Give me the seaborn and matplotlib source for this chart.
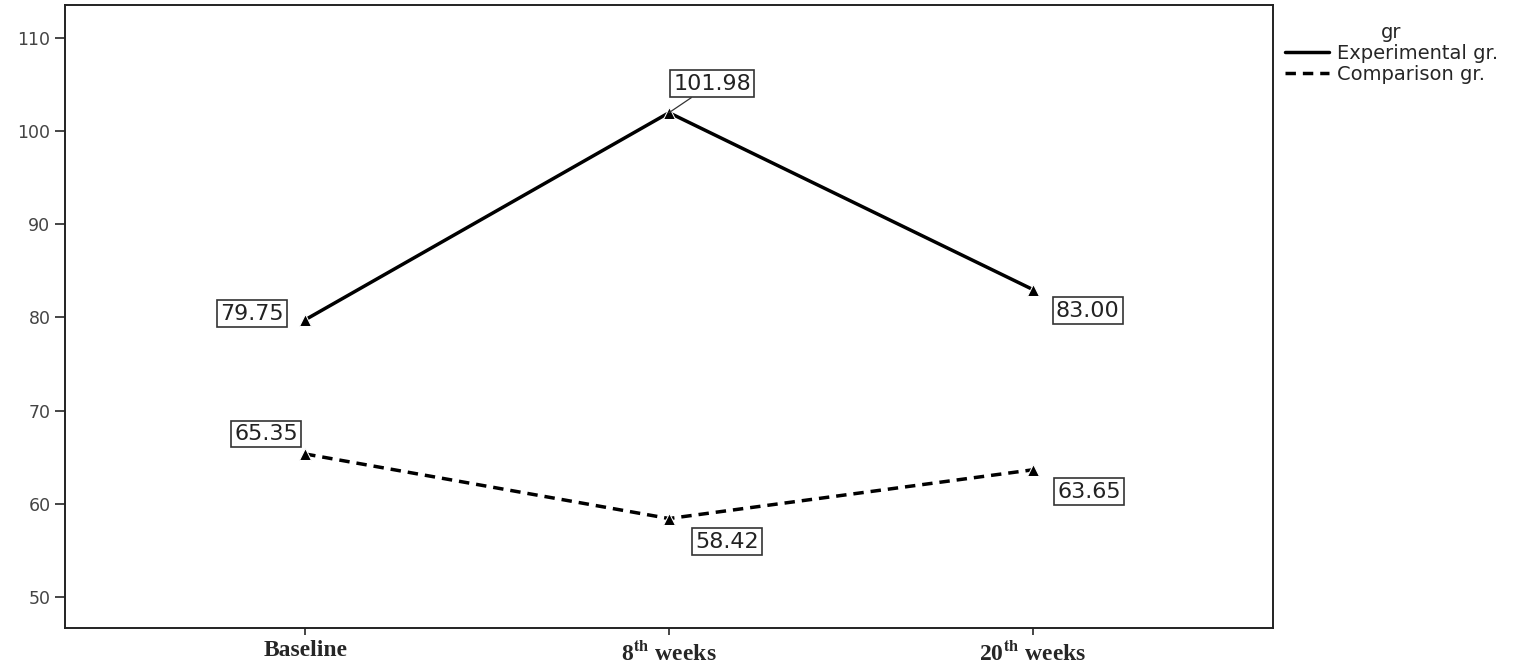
import numpy as np
import pandas as pd
import matplotlib
matplotlib.use("Agg")
import matplotlib.pyplot as plt
import seaborn as sns

# datos
tiempos = ["Baseline", "8th weeks", "20th weeks"]
etiquetas_x = ["Baseline", r"8$^{\mathbf{th}}$ weeks", r"20$^{\mathbf{th}}$ weeks"]
experimental = [79.75, 101.98, 83.00]
comparacion = [65.35, 58.42, 63.65]
grupos = ["Experimental gr.", "Comparison gr."]

# offsets de las etiquetas (pixeles)
offs_exp = [(-53, 6), (43, 29), (55, -21)]
offs_comp = [(-39, 20), (58, -23), (56, -22)]

df = pd.DataFrame({
    "tiempo": tiempos * 2,
    "valor": experimental + comparacion,
    "gr": [grupos[0]] * 3 + [grupos[1]] * 3,
})

sns.set_style("white")
plt.rcParams["font.family"] = ["DejaVu Sans"]
plt.rcParams["mathtext.fontset"] = "stix"

fig = plt.figure(figsize=(15.26, 6.66), dpi=100)
ax = fig.add_axes([65 / 1526, 1 - 628 / 666, (1273 - 65) / 1526, 623 / 666])

sns.lineplot(data=df, x="tiempo", y="valor", hue="gr", style="gr",
             palette=["black", "black"],
             dashes={grupos[0]: "", grupos[1]: (3, 2)},
             markers={grupos[0]: "^", grupos[1]: "^"},
             markersize=9, lw=2.5, ax=ax)

ax.set_xlim(-0.66, 2.66)
ax.set_ylim(46.67, 113.54)
ax.set_yticks(np.arange(50, 111, 10))
ax.set_xticks(range(len(tiempos)))
ax.set_xticklabels(etiquetas_x, fontfamily="Liberation Serif", fontweight="bold", fontsize=17)
ax.tick_params(axis="y", labelsize=12.5, labelcolor="#444444", length=7, width=1.2, left=True)
ax.tick_params(axis="x", length=5, width=1.2, bottom=True, pad=4)
ax.set_xlabel("")
ax.set_ylabel("")
for s in ax.spines.values():
    s.set_linewidth(1.4)
    s.set_color("#222222")

# etiquetas con caja
caja = dict(boxstyle="square,pad=0.15", fc="white", ec="#333333", lw=1.2)
for serie, offs in [(experimental, offs_exp), (comparacion, offs_comp)]:
    for i, v in enumerate(serie):
        flecha = None
        if serie is experimental and i == 1:
            flecha = dict(arrowstyle="-", lw=0.9, color="#333333", shrinkA=0, shrinkB=0)
        ax.annotate(f"{v:.2f}", xy=(i, v), xytext=offs[i], textcoords="offset pixels",
                    ha="center", va="center", fontsize=16, color="#222222", bbox=caja,
                    arrowprops=flecha)

leg = ax.legend(title="gr", loc="upper left", bbox_to_anchor=(1.0, 0.99),
                frameon=False, fontsize=14, title_fontsize=14,
                handlelength=2.3, handletextpad=0.4, borderaxespad=0.2, labelspacing=0.1)
for h in leg.get_lines():
    h.set_marker("")
    h.set_linewidth(2.5)

fig.savefig("out.png", dpi=100)
